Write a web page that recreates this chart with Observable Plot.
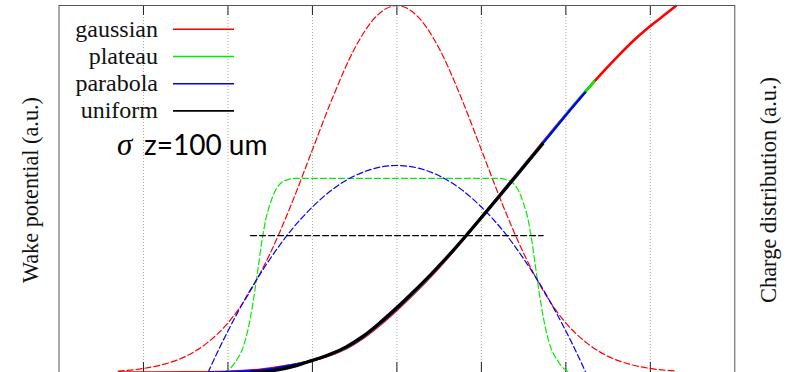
<!DOCTYPE html>
<html><head><meta charset="utf-8">
<script src="https://cdn.jsdelivr.net/npm/d3@7"></script>
<script src="https://cdn.jsdelivr.net/npm/@observablehq/plot@0.6"></script>
<style>
html,body{margin:0;padding:0;background:#fff;overflow:hidden;}
#chart{position:relative;width:789px;height:372px;}
</style></head><body><div id="chart"></div>
<script>
// x in units of sigma_z (100 um), y in arbitrary units
const gridTicks = [-3, -2, -1, 0, 1, 2, 3];

// charge distributions (dashed)
const gaussZ = [-3.3,-3,-2.75,-2.5,-2.25,-2,-1.75,-1.5,-1.25,-1,-0.75,-0.5,-0.25,0,0.25,0.5,0.75,1,1.25,1.5,1.75,2,2.25,2.5,2.75,3,3.3];
const gaussQ = [0.004,0.011,0.023,0.044,0.080,0.135,0.216,0.325,0.458,0.607,0.755,0.883,0.969,1,0.969,0.883,0.755,0.607,0.458,0.325,0.216,0.135,0.080,0.044,0.023,0.011,0.004];
const plateauZ = [-2.05,-1.97,-1.9,-1.82,-1.74,-1.68,-1.64,-1.6,-1.55,-1.5,-1.44,-1.37,-1.3,-1.2,0,1.2,1.3,1.37,1.44,1.5,1.55,1.6,1.64,1.68,1.74,1.82,1.9,1.97,2.05];
const plateauQ = [0,0.012,0.033,0.069,0.142,0.225,0.29,0.355,0.42,0.46,0.495,0.517,0.525,0.529,0.529,0.529,0.525,0.517,0.495,0.46,0.42,0.355,0.29,0.225,0.142,0.069,0.033,0.012,0];
const paraZ = [-2.236,-2.1,-2,-1.75,-1.5,-1.25,-1,-0.75,-0.5,-0.25,0,0.25,0.5,0.75,1,1.25,1.5,1.75,2,2.1,2.236];
const paraQ = [0,0.067,0.113,0.219,0.310,0.388,0.451,0.501,0.536,0.557,0.564,0.557,0.536,0.501,0.451,0.388,0.310,0.219,0.113,0.067,0];
const uniformZ = [-1.732, 1.732];
const uniformQ = [0.373, 0.373];

// wake potentials (solid)
const gaussWakeZ = [-3.3,-2.5,-2,-1.6,-1.3,-1,-0.8,-0.6,-0.4,-0.2,0,0.2,0.4,0.6,0.8,1,1.2,1.4,1.6,1.72,2,2.2,2.4,2.6,2.8,3,3.2,3.31];
const gaussWakeQ = [0,0.0003,0.002,0.008,0.018,0.033,0.047,0.066,0.094,0.13,0.171,0.215,0.262,0.313,0.367,0.423,0.479,0.535,0.591,0.625,0.703,0.757,0.809,0.858,0.904,0.944,0.98,1.0];
const plateauWakeZ = [-2.05,-1.8,-1.6,-1.3,-1,-0.8,-0.6,-0.4,-0.2,0,0.2,0.4,0.6,0.8,1,1.2,1.4,1.6,1.8,2,2.2,2.343];
const plateauWakeQ = [0,0.001,0.005,0.017,0.033,0.048,0.068,0.097,0.133,0.174,0.218,0.265,0.315,0.368,0.423,0.478,0.534,0.59,0.645,0.702,0.757,0.795];
const paraWakeZ = [-2.236,-2,-1.6,-1.3,-1,-0.8,-0.6,-0.4,-0.2,0,0.2,0.4,0.6,0.8,1,1.2,1.4,1.6,1.8,2,2.236];
const paraWakeQ = [0,0.001,0.006,0.017,0.033,0.048,0.068,0.097,0.133,0.174,0.218,0.265,0.315,0.368,0.423,0.478,0.534,0.59,0.645,0.701,0.765];
const uniformWakeZ = [-1.732,-1.5,-1.2,-1,-0.8,-0.6,-0.4,-0.2,0,0.2,0.4,0.6,0.8,1,1.2,1.4,1.6,1.732];
const uniformWakeQ = [0,0.004,0.018,0.033,0.049,0.07,0.099,0.136,0.177,0.221,0.267,0.316,0.368,0.422,0.477,0.532,0.588,0.625];

const legendNames = ["gaussian", "plateau", "parabola", "uniform"];
const legendColors = ["#ff0000", "#00ee00", "#0000ff", "#000000"];

const rows = (zs, qs) => zs.map((z, i) => ({z, q: qs[i]}));

const dash = {strokeWidth: 1.2, strokeDasharray: "6,3", curve: "monotone-x"};
const solid = {curve: "monotone-x", strokeLinecap: "butt"};

const svg = Plot.plot({
  width: 789, height: 374,
  marginLeft: 58.5, marginRight: 54.7, marginTop: 5, marginBottom: 2,
  x: {domain: [-4, 4], axis: null},
  y: {domain: [0, 1], axis: null},
  style: {background: "white", overflow: "visible"},
  marks: [
    Plot.ruleX(gridTicks, {stroke: "#a8a8a8", strokeWidth: 1, strokeDasharray: "1,2"}),
    Plot.tickX(gridTicks, {insetBottom: 357, stroke: "#222", strokeWidth: 1}),
    Plot.tickX(gridTicks, {insetTop: 357, stroke: "#222", strokeWidth: 1}),
    Plot.line(rows(gaussZ, gaussQ), {x: "z", y: "q", stroke: legendColors[0], ...dash}),
    Plot.line(rows(plateauZ, plateauQ), {x: "z", y: "q", stroke: legendColors[1], ...dash}),
    Plot.line(rows(paraZ, paraQ), {x: "z", y: "q", stroke: legendColors[2], ...dash}),
    Plot.line(rows(uniformZ, uniformQ), {x: "z", y: "q", stroke: legendColors[3], ...dash}),
    Plot.line(rows(gaussWakeZ, gaussWakeQ), {x: "z", y: "q", stroke: legendColors[0], strokeWidth: 2.6, ...solid}),
    Plot.line(rows(plateauWakeZ, plateauWakeQ), {x: "z", y: "q", stroke: legendColors[1], strokeWidth: 2.6, ...solid}),
    Plot.line(rows(paraWakeZ, paraWakeQ), {x: "z", y: "q", stroke: legendColors[2], strokeWidth: 2.4, ...solid}),
    Plot.line(rows(uniformWakeZ, uniformWakeQ), {x: "z", y: "q", stroke: legendColors[3], strokeWidth: 3.2, ...solid}),
    Plot.frame({stroke: "#555", strokeWidth: 1})
  ]
});
document.getElementById("chart").appendChild(svg);

const s = d3.select(svg);
const serif = "'Liberation Serif', 'Times New Roman', serif";
// axis labels
s.append("text").attr("transform", "translate(38,190) rotate(-90)")
  .attr("text-anchor", "middle").attr("font-family", serif).attr("font-size", 24)
  .attr("textLength", 186).attr("lengthAdjust", "spacingAndGlyphs")
  .attr("fill", "#111").text("Wake potential (a.u.)");
s.append("text").attr("transform", "translate(776,190) rotate(-90)")
  .attr("text-anchor", "middle").attr("font-family", serif).attr("font-size", 24)
  .attr("textLength", 226).attr("lengthAdjust", "spacingAndGlyphs")
  .attr("fill", "#111").text("Charge distribution (a.u.)");

// legend
legendNames.forEach((name, i) => {
  const yLine = 29.3 + i * 27.2;
  s.append("text").attr("x", 158).attr("y", yLine + 7.5)
    .attr("text-anchor", "end").attr("font-family", serif).attr("font-size", 24)
    .attr("fill", "#111").text(name);
  s.append("line").attr("x1", 173).attr("x2", 234).attr("y1", yLine).attr("y2", yLine)
    .attr("stroke", legendColors[i]).attr("stroke-width", 1.6);
});

// sigma annotation
const ann = s.append("text").attr("y", 155).attr("fill", "#000").attr("text-anchor", "start");
ann.append("tspan").attr("x", 117).attr("font-family", serif).attr("font-style", "italic").attr("font-size", 31).text("σ");
ann.append("tspan").attr("x", 144).attr("font-family", "Lato, 'Open Sans', sans-serif").attr("font-size", 28).text("z=100 um");
</script>
</body></html>
